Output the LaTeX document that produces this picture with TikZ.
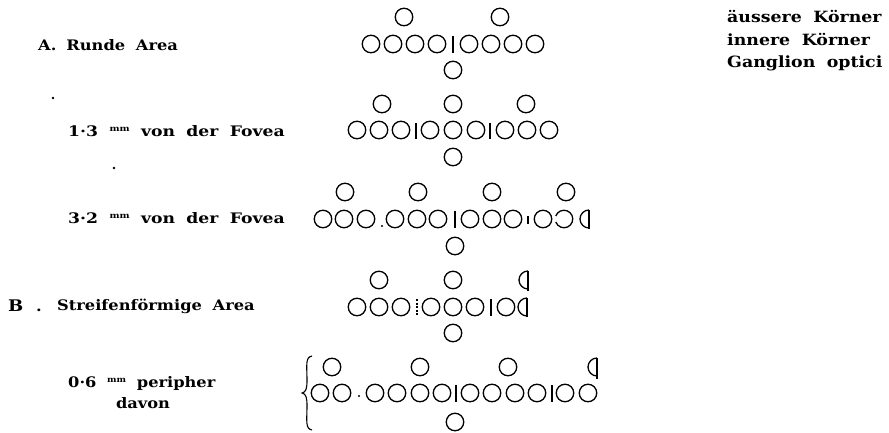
\documentclass[tikz,border=0pt]{standalone}
\usepackage{fontspec}
\setmainfont{DejaVu Serif}[FakeStretch=1.12,WordSpace=1.9]
\begin{document}
\begin{tikzpicture}[x=1pt,y=-1pt,
  cell/.style={circle,draw,line width=1.3pt,minimum size=17.5pt,inner sep=0pt},
  lab/.style={anchor=west,inner sep=0pt,font=\fontsize{14.5}{16}\selectfont\bfseries},
  bar/.style={line width=1.3pt},
  half/.style={line width=1.3pt}]
\useasboundingbox (0,0) rectangle (889,433);
\newcommand{\mmsup}{\raisebox{0.6ex}{\fontsize{8}{9}\selectfont mm}}
% labels
\node[lab] (la) at (38,45) {A.\hspace{10pt}Runde Area};
\node[lab] (l13) at (68,131) {\scalebox{1.06}[1]{1·3 \mmsup\ von der Fovea}};
\node[lab] (l32) at (68,218) {\scalebox{1.06}[1]{3·2 \mmsup\ von der Fovea}};
\node[lab,font=\fontsize{16}{18}\selectfont\bfseries] (lb1) at (8,306) {B};
\node[lab,anchor=base west] (lbd) at (36,311) {.};
\node[lab] (lb) at (57,306) {Streifenförmige Area};
\node[lab] (l06) at (68,383) {0·6 \mmsup\ peripher};
\node[lab,anchor=center] (l06b) at (143,403) {davon};
\node[lab,font=\fontsize{15.5}{17}\selectfont\bfseries] (g1) at (727,17) {äussere Körner};
\node[lab,font=\fontsize{15.5}{17}\selectfont\bfseries] (g2) at (727,40) {innere Körner};
\node[lab,font=\fontsize{15.5}{17}\selectfont\bfseries] (g3) at (727,63) {Ganglion optici};
\fill (53,98) circle (1.3);
\fill (114,168) circle (1.3);
% Row A
\foreach \x [count=\i] in {371,393,415,437,469,491,513,535} \node[cell] (a\i) at (\x,44) {};
\node[cell] (at1) at (404,17) {};
\node[cell] (at2) at (500,17) {};
\node[cell] (ab) at (453,70) {};
\draw[bar] (453,36) -- (453,53);
% Row 1.3
\foreach \x [count=\i] in {357,379,401,430,453,476,505,527,549} \node[cell] (b\i) at (\x,130) {};
\foreach \x [count=\i] in {382,453,526} \node[cell] (bt\i) at (\x,104) {};
\node[cell] (bb) at (453,157) {};
\draw[bar] (416,123) -- (416,139);
\draw[bar] (490,123) -- (490,139);
% Row 3.2
\foreach \x [count=\i] in {323,344,366,395,417,438,470,492,513,543} \node[cell] (c\i) at (\x,219) {};
\draw[half] (564,219) ++(200:8.75) arc[start angle=200,end angle=520,radius=8.75];
\foreach \x [count=\i] in {345,418,492,566} \node[cell] (ct\i) at (\x,192) {};
\node[cell] (cb) at (455,246) {};
\fill (382,226) circle (1.1);
\draw[bar] (455,211) -- (455,228);
\draw[bar] (528,216) -- (528,224);
\draw[half] (589,210) arc[start angle=270,end angle=90,radius=9];
\draw[bar] (589,210) -- (589,229);
% Row B
\foreach \x [count=\i] in {357,379,401,431,453,475,506} \node[cell] (d\i) at (\x,307) {};
\foreach \x [count=\i] in {379,453} \node[cell] (dt\i) at (\x,280) {};
\node[cell] (db) at (453,333) {};
\draw[bar,dash pattern=on 2pt off 1.5pt] (417,299) -- (417,316);
\draw[bar] (491,299) -- (491,316);
\draw[half] (527,298) arc[start angle=270,end angle=90,radius=9];
\draw[bar] (527,298) -- (527,317);
\draw[half] (528,271) arc[start angle=270,end angle=90,radius=9];
\draw[bar] (528,271) -- (528,291);
% Row 0.6
\foreach \x [count=\i] in {320,342,375,397,420,442,470,492,515,537,565,588} \node[cell] (e\i) at (\x,393) {};
\foreach \x [count=\i] in {332,420,508} \node[cell] (et\i) at (\x,367) {};
\node[cell] (eb) at (455,422) {};
\fill (359,396) circle (1.1);
\draw[bar] (456,385) -- (456,402);
\draw[bar] (552,385) -- (552,402);
\draw[half] (597,358) arc[start angle=270,end angle=90,radius=9];
\draw[bar] (597,358) -- (597,379);
% brace
\draw[line width=1.1pt] (312,356) .. controls (305,357) and (307,366) .. (307,380)
  .. controls (307,389) and (306,392) .. (302,393)
  .. controls (306,394) and (307,397) .. (307,406)
  .. controls (307,420) and (305,429) .. (312,430);
\end{tikzpicture}
\end{document}
